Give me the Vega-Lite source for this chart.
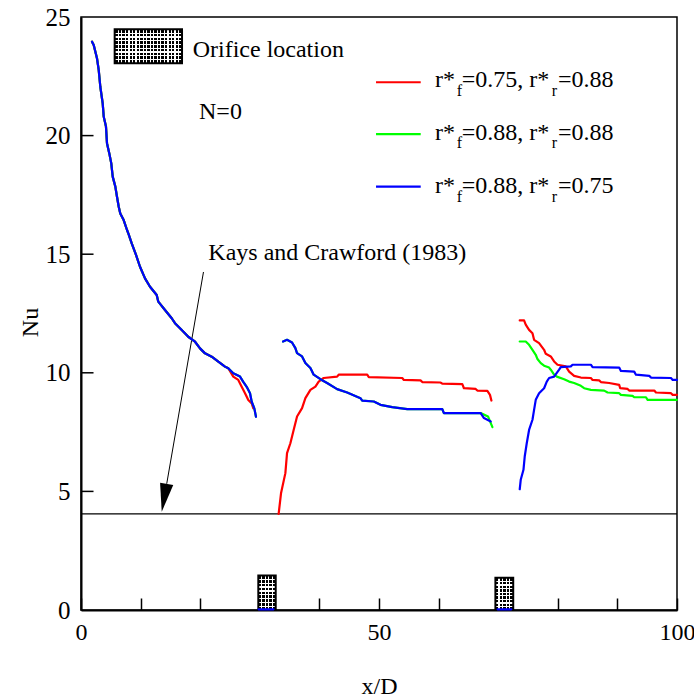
{
  "$schema": "https://vega.github.io/schema/vega-lite/v6.json",
  "width": 596,
  "height": 593,
  "autosize": {"type": "none"},
  "padding": {"left": 81, "top": 17, "right": 17, "bottom": 87},
  "background": "white",
  "config": {
    "font": "Liberation Serif",
    "view": {"stroke": "black", "strokeWidth": 1.5},
    "axis": {"grid": false, "domainColor": "black", "domainWidth": 2, "tickColor": "black", "tickWidth": 1.5, "labelColor": "black", "titleColor": "black", "labelFont": "Liberation Serif", "titleFont": "Liberation Serif", "labelFontSize": 24, "titleFontSize": 24, "titleFontWeight": "normal"}
  },
  "datasets": {
    "rects": [
      {"k": "leg", "x": 5.65, "x2": 16.95, "y": 23.05, "y2": 24.48},
      {"k": "ori", "x": 29.75, "x2": 32.67, "y": 0, "y2": 1.45},
      {"k": "ori", "x": 69.53, "x2": 72.52, "y": 0, "y2": 1.36}
    ],
    "yticks": [{"x": 0, "x2": 2.1, "y": 5}, {"x": 0, "x2": 2.1, "y": 10}, {"x": 0, "x2": 2.1, "y": 15}, {"x": 0, "x2": 2.1, "y": 20}],
    "kays": [{"x": 0, "x2": 100, "y": 4.05}],
    "arrow": [{"x": 20.55, "y": 14.25, "x2": 14.38, "y2": 5.32}],
    "head": [{"x": 13.96, "y": 4.73}],
    "leglines": [
      {"s": "a", "x": 49.5, "x2": 57.0, "y": 22.25},
      {"s": "b", "x": 49.5, "x2": 57.0, "y": 20.06},
      {"s": "c", "x": 49.5, "x2": 57.0, "y": 17.85}
    ],
    "texts": [
      {"x": 18.74, "y": 23.30, "t": "Orifice location"},
      {"x": 19.8, "y": 20.69, "t": "N=0"},
      {"x": 21.36, "y": 14.76, "t": "Kays and Crawford (1983)"},
      {"x": 59.40, "y": 22.05, "t": "r*"},
      {"x": 63.88, "y": 22.05, "t": "=0.75, r*"},
      {"x": 80.03, "y": 22.05, "t": "=0.88"},
      {"x": 59.40, "y": 19.82, "t": "r*"},
      {"x": 63.88, "y": 19.82, "t": "=0.88, r*"},
      {"x": 80.03, "y": 19.82, "t": "=0.88"},
      {"x": 59.40, "y": 17.57, "t": "r*"},
      {"x": 63.88, "y": 17.57, "t": "=0.88, r*"},
      {"x": 80.03, "y": 17.57, "t": "=0.75"}
    ],
    "subs": [
      {"x": 63.04, "y": 21.69, "t": "f"},
      {"x": 78.98, "y": 21.69, "t": "r"},
      {"x": 63.04, "y": 19.46, "t": "f"},
      {"x": 78.98, "y": 19.46, "t": "r"},
      {"x": 63.04, "y": 17.21, "t": "f"},
      {"x": 78.98, "y": 17.21, "t": "r"}
    ],
    "curves": [
      {"s":"a","g":1,"x":1.85,"y":23.96},{"s":"a","g":1,"x":2.13,"y":23.82},{"s":"a","g":1,"x":2.68,"y":23.26},{"s":"a","g":1,"x":2.97,"y":22.77},{"s":"a","g":1,"x":3.24,"y":22.06},{"s":"a","g":1,"x":3.64,"y":21.36},{"s":"a","g":1,"x":3.81,"y":20.8},{"s":"a","g":1,"x":4.19,"y":20.38},{"s":"a","g":1,"x":4.36,"y":19.68},{"s":"a","g":1,"x":4.75,"y":19.25},{"s":"a","g":1,"x":5.08,"y":18.83},{"s":"a","g":1,"x":5.32,"y":18.27},{"s":"a","g":1,"x":5.76,"y":17.85},{"s":"a","g":1,"x":6.04,"y":17.42},{"s":"a","g":1,"x":6.33,"y":17.0},{"s":"a","g":1,"x":6.59,"y":16.72},{"s":"a","g":1,"x":7.16,"y":16.44},{"s":"a","g":1,"x":7.72,"y":16.02},{"s":"a","g":1,"x":7.94,"y":15.88},{"s":"a","g":1,"x":8.51,"y":15.46},{"s":"a","g":1,"x":9.23,"y":14.97},{"s":"a","g":1,"x":9.9,"y":14.47},{"s":"a","g":1,"x":10.74,"y":13.98},{"s":"a","g":1,"x":11.58,"y":13.63},{"s":"a","g":1,"x":12.7,"y":13.28},{"s":"a","g":1,"x":12.97,"y":13.0},{"s":"a","g":1,"x":14.09,"y":12.65},{"s":"a","g":1,"x":15.22,"y":12.3},{"s":"a","g":1,"x":15.77,"y":12.09},{"s":"a","g":1,"x":16.9,"y":11.8},{"s":"a","g":1,"x":18.0,"y":11.52},{"s":"a","g":1,"x":19.13,"y":11.31},{"s":"a","g":1,"x":19.97,"y":11.03},{"s":"a","g":1,"x":20.81,"y":10.82},{"s":"a","g":1,"x":21.93,"y":10.68},{"s":"a","g":1,"x":23.04,"y":10.47},{"s":"a","g":1,"x":24.16,"y":10.26},{"s":"a","g":1,"x":24.71,"y":10.19},{"s":"a","g":1,"x":25.55,"y":9.84},{"s":"a","g":1,"x":26.39,"y":9.7},{"s":"a","g":1,"x":26.96,"y":9.41},{"s":"a","g":1,"x":27.52,"y":9.14},{"s":"a","g":1,"x":28.07,"y":8.85},{"s":"a","g":1,"x":28.64,"y":8.71},{"s":"a","g":1,"x":28.91,"y":8.5},
      {"s":"b","g":1,"x":1.85,"y":23.96},{"s":"b","g":1,"x":2.13,"y":23.82},{"s":"b","g":1,"x":2.68,"y":23.26},{"s":"b","g":1,"x":2.97,"y":22.77},{"s":"b","g":1,"x":3.24,"y":22.06},{"s":"b","g":1,"x":3.64,"y":21.36},{"s":"b","g":1,"x":3.81,"y":20.8},{"s":"b","g":1,"x":4.19,"y":20.38},{"s":"b","g":1,"x":4.36,"y":19.68},{"s":"b","g":1,"x":4.75,"y":19.25},{"s":"b","g":1,"x":5.08,"y":18.83},{"s":"b","g":1,"x":5.32,"y":18.27},{"s":"b","g":1,"x":5.76,"y":17.85},{"s":"b","g":1,"x":6.04,"y":17.42},{"s":"b","g":1,"x":6.33,"y":17.0},{"s":"b","g":1,"x":6.59,"y":16.72},{"s":"b","g":1,"x":7.16,"y":16.44},{"s":"b","g":1,"x":7.72,"y":16.02},{"s":"b","g":1,"x":7.94,"y":15.88},{"s":"b","g":1,"x":8.51,"y":15.46},{"s":"b","g":1,"x":9.23,"y":14.97},{"s":"b","g":1,"x":9.9,"y":14.47},{"s":"b","g":1,"x":10.74,"y":13.98},{"s":"b","g":1,"x":11.58,"y":13.63},{"s":"b","g":1,"x":12.7,"y":13.28},{"s":"b","g":1,"x":12.97,"y":13.0},{"s":"b","g":1,"x":14.09,"y":12.65},{"s":"b","g":1,"x":15.22,"y":12.3},{"s":"b","g":1,"x":15.77,"y":12.09},{"s":"b","g":1,"x":16.9,"y":11.8},{"s":"b","g":1,"x":18.0,"y":11.52},{"s":"b","g":1,"x":19.13,"y":11.31},{"s":"b","g":1,"x":19.97,"y":11.03},{"s":"b","g":1,"x":20.81,"y":10.82},{"s":"b","g":1,"x":21.93,"y":10.68},{"s":"b","g":1,"x":23.04,"y":10.47},{"s":"b","g":1,"x":24.16,"y":10.26},{"s":"b","g":1,"x":24.71,"y":10.19},{"s":"b","g":1,"x":25.55,"y":9.98},{"s":"b","g":1,"x":26.68,"y":9.84},{"s":"b","g":1,"x":27.23,"y":9.62},{"s":"b","g":1,"x":27.8,"y":9.41},{"s":"b","g":1,"x":28.36,"y":9.14},{"s":"b","g":1,"x":28.64,"y":8.78},{"s":"b","g":1,"x":29.08,"y":8.5},{"s":"b","g":1,"x":29.36,"y":8.15},
      {"s":"c","g":1,"x":1.85,"y":23.96},{"s":"c","g":1,"x":2.13,"y":23.82},{"s":"c","g":1,"x":2.68,"y":23.26},{"s":"c","g":1,"x":2.97,"y":22.77},{"s":"c","g":1,"x":3.24,"y":22.06},{"s":"c","g":1,"x":3.64,"y":21.36},{"s":"c","g":1,"x":3.81,"y":20.8},{"s":"c","g":1,"x":4.19,"y":20.38},{"s":"c","g":1,"x":4.36,"y":19.68},{"s":"c","g":1,"x":4.75,"y":19.25},{"s":"c","g":1,"x":5.08,"y":18.83},{"s":"c","g":1,"x":5.32,"y":18.27},{"s":"c","g":1,"x":5.76,"y":17.85},{"s":"c","g":1,"x":6.04,"y":17.42},{"s":"c","g":1,"x":6.33,"y":17.0},{"s":"c","g":1,"x":6.59,"y":16.72},{"s":"c","g":1,"x":7.16,"y":16.44},{"s":"c","g":1,"x":7.72,"y":16.02},{"s":"c","g":1,"x":7.94,"y":15.88},{"s":"c","g":1,"x":8.51,"y":15.46},{"s":"c","g":1,"x":9.23,"y":14.97},{"s":"c","g":1,"x":9.9,"y":14.47},{"s":"c","g":1,"x":10.74,"y":13.98},{"s":"c","g":1,"x":11.58,"y":13.63},{"s":"c","g":1,"x":12.7,"y":13.28},{"s":"c","g":1,"x":12.97,"y":13.0},{"s":"c","g":1,"x":14.09,"y":12.65},{"s":"c","g":1,"x":15.22,"y":12.3},{"s":"c","g":1,"x":15.77,"y":12.09},{"s":"c","g":1,"x":16.9,"y":11.8},{"s":"c","g":1,"x":18.0,"y":11.52},{"s":"c","g":1,"x":19.13,"y":11.31},{"s":"c","g":1,"x":19.97,"y":11.03},{"s":"c","g":1,"x":20.81,"y":10.82},{"s":"c","g":1,"x":21.93,"y":10.68},{"s":"c","g":1,"x":23.04,"y":10.47},{"s":"c","g":1,"x":24.16,"y":10.26},{"s":"c","g":1,"x":24.71,"y":10.19},{"s":"c","g":1,"x":25.55,"y":9.98},{"s":"c","g":1,"x":26.68,"y":9.84},{"s":"c","g":1,"x":27.23,"y":9.62},{"s":"c","g":1,"x":27.8,"y":9.41},{"s":"c","g":1,"x":28.36,"y":9.14},{"s":"c","g":1,"x":28.64,"y":8.78},{"s":"c","g":1,"x":29.08,"y":8.5},{"s":"c","g":1,"x":29.36,"y":8.15},
      {"s":"a","g":2,"x":33.16,"y":4.05},{"s":"a","g":2,"x":33.56,"y":4.92},{"s":"a","g":2,"x":34.29,"y":5.77},{"s":"a","g":2,"x":34.57,"y":6.61},{"s":"a","g":2,"x":35.13,"y":7.03},{"s":"a","g":2,"x":35.68,"y":7.59},{"s":"a","g":2,"x":36.25,"y":8.16},{"s":"a","g":2,"x":37.09,"y":8.51},{"s":"a","g":2,"x":37.65,"y":8.93},{"s":"a","g":2,"x":38.49,"y":9.28},{"s":"a","g":2,"x":39.33,"y":9.42},{"s":"a","g":2,"x":39.88,"y":9.63},{"s":"a","g":2,"x":40.72,"y":9.78},{"s":"a","g":2,"x":42.97,"y":9.84},{"s":"a","g":2,"x":43.24,"y":9.92},{"s":"a","g":2,"x":48.02,"y":9.92},{"s":"a","g":2,"x":48.29,"y":9.82},{"s":"a","g":2,"x":53.9,"y":9.78},{"s":"a","g":2,"x":54.17,"y":9.7},{"s":"a","g":2,"x":56.97,"y":9.68},{"s":"a","g":2,"x":57.26,"y":9.61},{"s":"a","g":2,"x":60.34,"y":9.59},{"s":"a","g":2,"x":60.62,"y":9.54},{"s":"a","g":2,"x":63.98,"y":9.52},{"s":"a","g":2,"x":64.25,"y":9.35},{"s":"a","g":2,"x":66.22,"y":9.32},{"s":"a","g":2,"x":66.5,"y":9.25},{"s":"a","g":2,"x":68.18,"y":9.24},{"s":"a","g":2,"x":68.62,"y":9.07},{"s":"a","g":2,"x":68.86,"y":8.83},
      {"s":"b","g":2,"x":33.9,"y":11.32},{"s":"b","g":2,"x":34.57,"y":11.39},{"s":"b","g":2,"x":35.41,"y":11.28},{"s":"b","g":2,"x":35.97,"y":11.04},{"s":"b","g":2,"x":36.25,"y":10.83},{"s":"b","g":2,"x":37.09,"y":10.69},{"s":"b","g":2,"x":37.65,"y":10.41},{"s":"b","g":2,"x":38.49,"y":10.2},{"s":"b","g":2,"x":39.04,"y":9.92},{"s":"b","g":2,"x":40.17,"y":9.73},{"s":"b","g":2,"x":41.29,"y":9.57},{"s":"b","g":2,"x":42.97,"y":9.31},{"s":"b","g":2,"x":44.66,"y":9.17},{"s":"b","g":2,"x":46.89,"y":8.93},{"s":"b","g":2,"x":47.18,"y":8.83},{"s":"b","g":2,"x":49.13,"y":8.79},{"s":"b","g":2,"x":50.25,"y":8.65},{"s":"b","g":2,"x":52.22,"y":8.55},{"s":"b","g":2,"x":54.74,"y":8.47},{"s":"b","g":2,"x":60.62,"y":8.47},{"s":"b","g":2,"x":60.89,"y":8.3},{"s":"b","g":2,"x":67.06,"y":8.3},{"s":"b","g":2,"x":68.29,"y":8.16},{"s":"b","g":2,"x":69.03,"y":7.71},
      {"s":"c","g":2,"x":33.9,"y":11.32},{"s":"c","g":2,"x":34.57,"y":11.39},{"s":"c","g":2,"x":35.41,"y":11.28},{"s":"c","g":2,"x":35.97,"y":11.04},{"s":"c","g":2,"x":36.25,"y":10.83},{"s":"c","g":2,"x":37.09,"y":10.69},{"s":"c","g":2,"x":37.65,"y":10.41},{"s":"c","g":2,"x":38.49,"y":10.2},{"s":"c","g":2,"x":39.04,"y":9.92},{"s":"c","g":2,"x":40.17,"y":9.73},{"s":"c","g":2,"x":41.29,"y":9.57},{"s":"c","g":2,"x":42.97,"y":9.31},{"s":"c","g":2,"x":44.66,"y":9.17},{"s":"c","g":2,"x":46.89,"y":8.93},{"s":"c","g":2,"x":47.18,"y":8.83},{"s":"c","g":2,"x":49.13,"y":8.79},{"s":"c","g":2,"x":50.25,"y":8.65},{"s":"c","g":2,"x":52.22,"y":8.55},{"s":"c","g":2,"x":54.74,"y":8.47},{"s":"c","g":2,"x":60.62,"y":8.47},{"s":"c","g":2,"x":60.89,"y":8.3},{"s":"c","g":2,"x":67.06,"y":8.3},{"s":"c","g":2,"x":67.61,"y":8.09},{"s":"c","g":2,"x":68.74,"y":7.95},
      {"s":"a","g":3,"x":73.61,"y":12.21},{"s":"a","g":3,"x":74.34,"y":12.21},{"s":"a","g":3,"x":74.62,"y":12.03},{"s":"a","g":3,"x":75.18,"y":11.81},{"s":"a","g":3,"x":75.75,"y":11.67},{"s":"a","g":3,"x":76.02,"y":11.39},{"s":"a","g":3,"x":76.86,"y":11.25},{"s":"a","g":3,"x":77.7,"y":10.97},{"s":"a","g":3,"x":77.98,"y":10.8},{"s":"a","g":3,"x":78.82,"y":10.69},{"s":"a","g":3,"x":79.38,"y":10.48},{"s":"a","g":3,"x":79.95,"y":10.34},{"s":"a","g":3,"x":81.34,"y":10.27},{"s":"a","g":3,"x":81.9,"y":10.05},{"s":"a","g":3,"x":82.74,"y":9.87},{"s":"a","g":3,"x":83.87,"y":9.8},{"s":"a","g":3,"x":85.55,"y":9.78},{"s":"a","g":3,"x":85.83,"y":9.7},{"s":"a","g":3,"x":86.94,"y":9.68},{"s":"a","g":3,"x":87.23,"y":9.61},{"s":"a","g":3,"x":88.62,"y":9.57},{"s":"a","g":3,"x":90.3,"y":9.49},{"s":"a","g":3,"x":90.47,"y":9.35},{"s":"a","g":3,"x":91.71,"y":9.32},{"s":"a","g":3,"x":91.98,"y":9.25},{"s":"a","g":3,"x":96.19,"y":9.25},{"s":"a","g":3,"x":96.47,"y":9.17},{"s":"a","g":3,"x":98.99,"y":9.14},{"s":"a","g":3,"x":99.28,"y":9.07},{"s":"a","g":3,"x":100,"y":9.07},
      {"s":"b","g":3,"x":73.61,"y":11.32},{"s":"b","g":3,"x":74.62,"y":11.32},{"s":"b","g":3,"x":75.18,"y":11.18},{"s":"b","g":3,"x":75.75,"y":10.97},{"s":"b","g":3,"x":76.3,"y":10.76},{"s":"b","g":3,"x":76.59,"y":10.58},{"s":"b","g":3,"x":77.14,"y":10.41},{"s":"b","g":3,"x":77.7,"y":10.3},{"s":"b","g":3,"x":78.54,"y":10.22},{"s":"b","g":3,"x":78.82,"y":10.13},{"s":"b","g":3,"x":79.38,"y":9.92},{"s":"b","g":3,"x":79.83,"y":9.84},{"s":"b","g":3,"x":81.06,"y":9.73},{"s":"b","g":3,"x":81.9,"y":9.63},{"s":"b","g":3,"x":82.74,"y":9.57},{"s":"b","g":3,"x":83.87,"y":9.45},{"s":"b","g":3,"x":84.42,"y":9.35},{"s":"b","g":3,"x":85.55,"y":9.28},{"s":"b","g":3,"x":87.78,"y":9.25},{"s":"b","g":3,"x":88.35,"y":9.17},{"s":"b","g":3,"x":90.3,"y":9.14},{"s":"b","g":3,"x":90.59,"y":9.07},{"s":"b","g":3,"x":92.55,"y":9.03},{"s":"b","g":3,"x":92.82,"y":8.97},{"s":"b","g":3,"x":94.79,"y":8.97},{"s":"b","g":3,"x":95.07,"y":8.86},{"s":"b","g":3,"x":100,"y":8.86},
      {"s":"c","g":3,"x":73.61,"y":5.09},{"s":"c","g":3,"x":73.78,"y":5.49},{"s":"c","g":3,"x":74.24,"y":5.91},{"s":"c","g":3,"x":74.45,"y":6.47},{"s":"c","g":3,"x":74.79,"y":7.03},{"s":"c","g":3,"x":75.18,"y":7.59},{"s":"c","g":3,"x":75.75,"y":8.02},{"s":"c","g":3,"x":76.02,"y":8.44},{"s":"c","g":3,"x":76.3,"y":8.86},{"s":"c","g":3,"x":76.86,"y":9.14},{"s":"c","g":3,"x":77.7,"y":9.35},{"s":"c","g":3,"x":78.15,"y":9.63},{"s":"c","g":3,"x":78.54,"y":9.78},{"s":"c","g":3,"x":79.38,"y":9.84},{"s":"c","g":3,"x":80.22,"y":10.13},{"s":"c","g":3,"x":80.5,"y":10.24},{"s":"c","g":3,"x":82.18,"y":10.27},{"s":"c","g":3,"x":82.47,"y":10.34},{"s":"c","g":3,"x":85.55,"y":10.34},{"s":"c","g":3,"x":85.83,"y":10.24},{"s":"c","g":3,"x":90.3,"y":10.22},{"s":"c","g":3,"x":90.59,"y":10.08},{"s":"c","g":3,"x":92.82,"y":10.05},{"s":"c","g":3,"x":93.11,"y":9.92},{"s":"c","g":3,"x":95.35,"y":9.87},{"s":"c","g":3,"x":95.63,"y":9.8},{"s":"c","g":3,"x":98.99,"y":9.78},{"s":"c","g":3,"x":99.28,"y":9.7},{"s":"c","g":3,"x":100,"y":9.7},
      {"s":"c","g":4,"x":29.8,"y":0.03},{"s":"c","g":4,"x":32.3,"y":0.03},
      {"s":"c","g":5,"x":69.9,"y":0.03},{"s":"c","g":5,"x":72.2,"y":0.03}
    ]
  },
  "layer": [
    {
      "data": {"name": "rects"},
      "mark": {"type": "rect", "color": "black", "strokeWidth": 0},
      "encoding": {
        "x": {"field": "x", "type": "quantitative", "title": "x/D", "scale": {"domain": [0, 100], "nice": false, "zero": false},
          "axis": {"values": [0, 10, 20, 30, 40, 50, 60, 70, 80, 90, 100], "labelExpr": "datum.value % 50 === 0 ? datum.label : ''", "tickSize": -12, "labelPadding": 22, "labelFlush": false, "labelOverlap": false, "labelBound": false, "titleY": 83, "titleBaseline": "alphabetic"}},
        "x2": {"field": "x2"},
        "y": {"field": "y", "type": "quantitative", "title": "Nu", "scale": {"domain": [0, 25], "nice": false, "zero": false},
          "axis": {"values": [0, 5, 10, 15, 20, 25], "ticks": false, "labelPadding": 11, "labelFontSize": 25, "labelOverlap": false, "labelBound": false, "labelFlush": false, "titleAngle": -90, "titleX": -51, "titleY": 305, "titleAlign": "center", "titleBaseline": "middle"}},
        "y2": {"field": "y2"}
      }
    },
    {
      "data": {"name": "rects"},
      "transform": [{"filter": "datum.k === 'ori'"}],
      "mark": {"type": "rect", "strokeWidth": 0, "fill": {"gradient": "linear", "x1": 0, "y1": 0, "x2": 1, "y2": 0, "stops": [
        {"offset": 0, "color": "rgba(255,255,255,0)"},
        {"offset": 0.17, "color": "rgba(255,255,255,0)"},{"offset": 0.17, "color": "#ffffff"},{"offset": 0.24, "color": "#ffffff"},{"offset": 0.24, "color": "rgba(255,255,255,0)"},
        {"offset": 0.37, "color": "rgba(255,255,255,0)"},{"offset": 0.37, "color": "#ffffff"},{"offset": 0.44, "color": "#ffffff"},{"offset": 0.44, "color": "rgba(255,255,255,0)"},
        {"offset": 0.57, "color": "rgba(255,255,255,0)"},{"offset": 0.57, "color": "#ffffff"},{"offset": 0.64, "color": "#ffffff"},{"offset": 0.64, "color": "rgba(255,255,255,0)"},
        {"offset": 0.77, "color": "rgba(255,255,255,0)"},{"offset": 0.77, "color": "#ffffff"},{"offset": 0.84, "color": "#ffffff"},{"offset": 0.84, "color": "rgba(255,255,255,0)"},
        {"offset": 1, "color": "rgba(255,255,255,0)"}]}},
      "encoding": {
        "x": {"field": "x", "type": "quantitative", "title": "x/D"},
        "x2": {"field": "x2"},
        "y": {"field": "y", "type": "quantitative", "title": "Nu"},
        "y2": {"field": "y2"}
      }
    },
    {
      "data": {"name": "rects"},
      "transform": [{"filter": "datum.k === 'leg'"}],
      "mark": {"type": "rect", "strokeWidth": 0, "fill": {"gradient": "linear", "x1": 0, "y1": 0, "x2": 1, "y2": 0, "stops": [
        {"offset": 0, "color": "rgba(255,255,255,0)"},
        {"offset": 0.0447, "color": "rgba(255,255,255,0)"},{"offset": 0.0447, "color": "#ffffff"},{"offset": 0.0632, "color": "#ffffff"},{"offset": 0.0632, "color": "rgba(255,255,255,0)"},
        {"offset": 0.0974, "color": "rgba(255,255,255,0)"},{"offset": 0.0974, "color": "#ffffff"},{"offset": 0.1158, "color": "#ffffff"},{"offset": 0.1158, "color": "rgba(255,255,255,0)"},
        {"offset": 0.15, "color": "rgba(255,255,255,0)"},{"offset": 0.15, "color": "#ffffff"},{"offset": 0.1684, "color": "#ffffff"},{"offset": 0.1684, "color": "rgba(255,255,255,0)"},
        {"offset": 0.2026, "color": "rgba(255,255,255,0)"},{"offset": 0.2026, "color": "#ffffff"},{"offset": 0.2211, "color": "#ffffff"},{"offset": 0.2211, "color": "rgba(255,255,255,0)"},
        {"offset": 0.2553, "color": "rgba(255,255,255,0)"},{"offset": 0.2553, "color": "#ffffff"},{"offset": 0.2737, "color": "#ffffff"},{"offset": 0.2737, "color": "rgba(255,255,255,0)"},
        {"offset": 0.3079, "color": "rgba(255,255,255,0)"},{"offset": 0.3079, "color": "#ffffff"},{"offset": 0.3263, "color": "#ffffff"},{"offset": 0.3263, "color": "rgba(255,255,255,0)"},
        {"offset": 0.3605, "color": "rgba(255,255,255,0)"},{"offset": 0.3605, "color": "#ffffff"},{"offset": 0.3789, "color": "#ffffff"},{"offset": 0.3789, "color": "rgba(255,255,255,0)"},
        {"offset": 0.4132, "color": "rgba(255,255,255,0)"},{"offset": 0.4132, "color": "#ffffff"},{"offset": 0.4316, "color": "#ffffff"},{"offset": 0.4316, "color": "rgba(255,255,255,0)"},
        {"offset": 0.4658, "color": "rgba(255,255,255,0)"},{"offset": 0.4658, "color": "#ffffff"},{"offset": 0.4842, "color": "#ffffff"},{"offset": 0.4842, "color": "rgba(255,255,255,0)"},
        {"offset": 0.5184, "color": "rgba(255,255,255,0)"},{"offset": 0.5184, "color": "#ffffff"},{"offset": 0.5368, "color": "#ffffff"},{"offset": 0.5368, "color": "rgba(255,255,255,0)"},
        {"offset": 0.5711, "color": "rgba(255,255,255,0)"},{"offset": 0.5711, "color": "#ffffff"},{"offset": 0.5895, "color": "#ffffff"},{"offset": 0.5895, "color": "rgba(255,255,255,0)"},
        {"offset": 0.6237, "color": "rgba(255,255,255,0)"},{"offset": 0.6237, "color": "#ffffff"},{"offset": 0.6421, "color": "#ffffff"},{"offset": 0.6421, "color": "rgba(255,255,255,0)"},
        {"offset": 0.6763, "color": "rgba(255,255,255,0)"},{"offset": 0.6763, "color": "#ffffff"},{"offset": 0.6947, "color": "#ffffff"},{"offset": 0.6947, "color": "rgba(255,255,255,0)"},
        {"offset": 0.7289, "color": "rgba(255,255,255,0)"},{"offset": 0.7289, "color": "#ffffff"},{"offset": 0.7474, "color": "#ffffff"},{"offset": 0.7474, "color": "rgba(255,255,255,0)"},
        {"offset": 0.7816, "color": "rgba(255,255,255,0)"},{"offset": 0.7816, "color": "#ffffff"},{"offset": 0.8, "color": "#ffffff"},{"offset": 0.8, "color": "rgba(255,255,255,0)"},
        {"offset": 0.8342, "color": "rgba(255,255,255,0)"},{"offset": 0.8342, "color": "#ffffff"},{"offset": 0.8526, "color": "#ffffff"},{"offset": 0.8526, "color": "rgba(255,255,255,0)"},
        {"offset": 0.8868, "color": "rgba(255,255,255,0)"},{"offset": 0.8868, "color": "#ffffff"},{"offset": 0.9053, "color": "#ffffff"},{"offset": 0.9053, "color": "rgba(255,255,255,0)"},
        {"offset": 0.9395, "color": "rgba(255,255,255,0)"},{"offset": 0.9395, "color": "#ffffff"},{"offset": 0.9579, "color": "#ffffff"},{"offset": 0.9579, "color": "rgba(255,255,255,0)"},
        {"offset": 1, "color": "rgba(255,255,255,0)"}]}},
      "encoding": {
        "x": {"field": "x", "type": "quantitative", "title": "x/D"},
        "x2": {"field": "x2"},
        "y": {"field": "y", "type": "quantitative", "title": "Nu"},
        "y2": {"field": "y2"}
      }
    },
    {
      "data": {"name": "rects"},
      "mark": {"type": "rect", "strokeWidth": 0, "fill": {"gradient": "linear", "x1": 0, "y1": 0, "x2": 0, "y2": 1, "stops": [
        {"offset": 0, "color": "rgba(255,255,255,0)"},
        {"offset": 0.0944, "color": "rgba(255,255,255,0)"},{"offset": 0.0944, "color": "#ffffff"},{"offset": 0.1333, "color": "#ffffff"},{"offset": 0.1333, "color": "rgba(255,255,255,0)"},
        {"offset": 0.2056, "color": "rgba(255,255,255,0)"},{"offset": 0.2056, "color": "#ffffff"},{"offset": 0.2444, "color": "#ffffff"},{"offset": 0.2444, "color": "rgba(255,255,255,0)"},
        {"offset": 0.3167, "color": "rgba(255,255,255,0)"},{"offset": 0.3167, "color": "#ffffff"},{"offset": 0.3556, "color": "#ffffff"},{"offset": 0.3556, "color": "rgba(255,255,255,0)"},
        {"offset": 0.4278, "color": "rgba(255,255,255,0)"},{"offset": 0.4278, "color": "#ffffff"},{"offset": 0.4667, "color": "#ffffff"},{"offset": 0.4667, "color": "rgba(255,255,255,0)"},
        {"offset": 0.5389, "color": "rgba(255,255,255,0)"},{"offset": 0.5389, "color": "#ffffff"},{"offset": 0.5778, "color": "#ffffff"},{"offset": 0.5778, "color": "rgba(255,255,255,0)"},
        {"offset": 0.65, "color": "rgba(255,255,255,0)"},{"offset": 0.65, "color": "#ffffff"},{"offset": 0.6889, "color": "#ffffff"},{"offset": 0.6889, "color": "rgba(255,255,255,0)"},
        {"offset": 0.7611, "color": "rgba(255,255,255,0)"},{"offset": 0.7611, "color": "#ffffff"},{"offset": 0.8, "color": "#ffffff"},{"offset": 0.8, "color": "rgba(255,255,255,0)"},
        {"offset": 0.8722, "color": "rgba(255,255,255,0)"},{"offset": 0.8722, "color": "#ffffff"},{"offset": 0.9111, "color": "#ffffff"},{"offset": 0.9111, "color": "rgba(255,255,255,0)"},
        {"offset": 1, "color": "rgba(255,255,255,0)"}]}},
      "encoding": {
        "x": {"field": "x", "type": "quantitative", "title": "x/D"},
        "x2": {"field": "x2"},
        "y": {"field": "y", "type": "quantitative", "title": "Nu"},
        "y2": {"field": "y2"}
      }
    },
    {
      "data": {"name": "rects"},
      "mark": {"type": "rect", "fillOpacity": 0, "fill": "white", "stroke": "black", "strokeWidth": 2},
      "encoding": {
        "x": {"field": "x", "type": "quantitative", "title": "x/D"},
        "x2": {"field": "x2"},
        "y": {"field": "y", "type": "quantitative", "title": "Nu"},
        "y2": {"field": "y2"}
      }
    },
    {
      "data": {"name": "yticks"},
      "mark": {"type": "rule", "color": "black", "strokeWidth": 1.5},
      "encoding": {
        "x": {"field": "x", "type": "quantitative", "title": "x/D"},
        "x2": {"field": "x2"},
        "y": {"field": "y", "type": "quantitative", "title": "Nu"}
      }
    },
    {
      "data": {"name": "kays"},
      "mark": {"type": "rule", "color": "black", "strokeWidth": 1.3},
      "encoding": {
        "x": {"field": "x", "type": "quantitative", "title": "x/D"},
        "x2": {"field": "x2"},
        "y": {"field": "y", "type": "quantitative", "title": "Nu"}
      }
    },
    {
      "data": {"name": "arrow"},
      "mark": {"type": "rule", "color": "black", "strokeWidth": 1},
      "encoding": {
        "x": {"field": "x", "type": "quantitative", "title": "x/D"},
        "x2": {"field": "x2"},
        "y": {"field": "y", "type": "quantitative", "title": "Nu"},
        "y2": {"field": "y2"}
      }
    },
    {
      "data": {"name": "head"},
      "mark": {"type": "point", "shape": "M -0.47 -1 L 0.47 -1 L 0 1 Z", "size": 807, "angle": 10, "filled": true, "color": "black", "opacity": 1, "strokeWidth": 0},
      "encoding": {
        "x": {"field": "x", "type": "quantitative", "title": "x/D"},
        "y": {"field": "y", "type": "quantitative", "title": "Nu"}
      }
    },
    {
      "data": {"name": "curves"},
      "mark": {"type": "line", "strokeWidth": 2.2, "strokeJoin": "round", "strokeCap": "round"},
      "encoding": {
        "x": {"field": "x", "type": "quantitative", "title": "x/D"},
        "y": {"field": "y", "type": "quantitative", "title": "Nu"},
        "color": {"field": "s", "type": "nominal", "scale": {"domain": ["a", "b", "c"], "range": ["#ff0000", "#00ff00", "#0000ff"]}, "legend": null},
        "detail": {"field": "g"},
        "order": {"field": "x", "type": "quantitative"}
      }
    },
    {
      "data": {"name": "leglines"},
      "mark": {"type": "rule", "strokeWidth": 2.2},
      "encoding": {
        "x": {"field": "x", "type": "quantitative", "title": "x/D"},
        "x2": {"field": "x2"},
        "y": {"field": "y", "type": "quantitative", "title": "Nu"},
        "color": {"field": "s", "type": "nominal", "scale": {"domain": ["a", "b", "c"], "range": ["#ff0000", "#00ff00", "#0000ff"]}, "legend": null}
      }
    },
    {
      "data": {"name": "texts"},
      "mark": {"type": "text", "align": "left", "baseline": "alphabetic", "fontSize": 24, "font": "Liberation Serif", "color": "black"},
      "encoding": {
        "x": {"field": "x", "type": "quantitative", "title": "x/D"},
        "y": {"field": "y", "type": "quantitative", "title": "Nu"},
        "text": {"field": "t"}
      }
    },
    {
      "data": {"name": "subs"},
      "mark": {"type": "text", "align": "left", "baseline": "alphabetic", "fontSize": 16, "font": "Liberation Serif", "color": "black"},
      "encoding": {
        "x": {"field": "x", "type": "quantitative", "title": "x/D"},
        "y": {"field": "y", "type": "quantitative", "title": "Nu"},
        "text": {"field": "t"}
      }
    }
  ]
}
